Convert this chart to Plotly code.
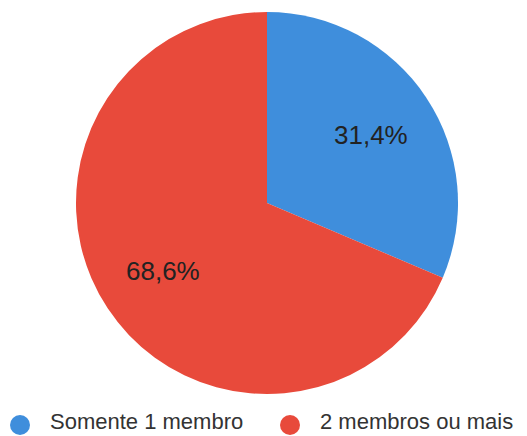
import math
import plotly.graph_objects as go

labels = ["Somente 1 membro", "2 membros ou mais"]
values = [31.4, 68.6]
colors = ["#3f8edc", "#e84a3b"]

W, H = 527, 436
cx, cy, r = 267, 203, 191
FONT = "Liberation Sans, Arial"

fig = go.Figure()
fig.add_trace(go.Pie(
    labels=labels, values=values, sort=False, direction="clockwise", rotation=0,
    marker=dict(colors=colors, line=dict(width=0)),
    textinfo="none",
    showlegend=False, hoverinfo="skip",
    domain=dict(x=[(cx - r) / W, (cx + r) / W], y=[1 - (cy + r) / H, 1 - (cy - r) / H]),
))

# slice labels placed along each slice's mid-angle
total = sum(values)
start = 0.0
annotations = []
for v in values:
    mid = (start + v / 2) / total * 2 * math.pi
    start += v
    px = cx + 0.65 * r * math.sin(mid)
    py = cy - 0.65 * r * math.cos(mid)
    annotations.append(dict(
        x=px / W, y=1 - py / H, xref="paper", yref="paper",
        text=f"{v:.1f}%".replace(".", ","), showarrow=False,
        xanchor="center", yanchor="middle",
        font=dict(family=FONT, size=26, color="#222222"),
    ))

# legend: circle markers + labels
shapes = []
legend_x = [20, 290]
ly, lr = 425, 10
for lab, col, lx in zip(labels, colors, legend_x):
    shapes.append(dict(type="circle", xref="paper", yref="paper",
                       x0=(lx - lr) / W, x1=(lx + lr) / W,
                       y0=1 - (ly + lr) / H, y1=1 - (ly - lr) / H,
                       fillcolor=col, line=dict(width=0)))
    annotations.append(dict(
        x=(lx + 28) / W, y=1 - 421 / H, xref="paper", yref="paper",
        text=lab, showarrow=False, xanchor="left", yanchor="middle",
        font=dict(family=FONT, size=22, color="#333333"),
    ))

fig.update_layout(
    width=W, height=H, margin=dict(l=0, r=0, t=0, b=0, autoexpand=False),
    paper_bgcolor="white", plot_bgcolor="white",
    annotations=annotations, shapes=shapes,
    showlegend=False,
)
fig.write_html("out.html", config={"displayModeBar": False},
               post_script="document.body.style.margin='0';")
